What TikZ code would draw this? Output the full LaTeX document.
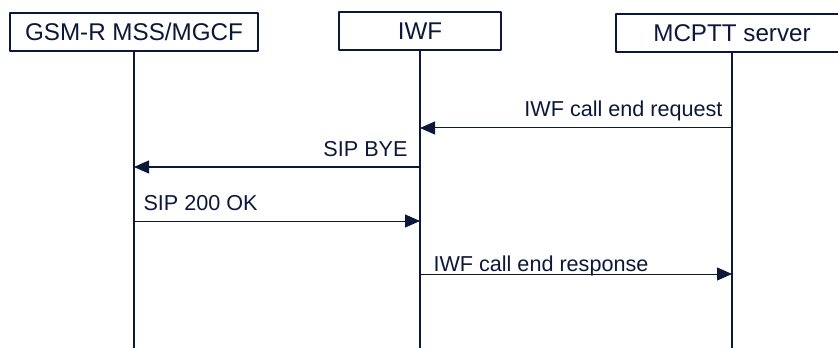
\documentclass[tikz,border=0pt]{standalone}
\usepackage{fontspec}
\setmainfont{Liberation Sans}
\usetikzlibrary{arrows.meta}
\definecolor{navy}{RGB}{12,24,58}
\tikzset{
  entity/.style={draw=navy, line width=1pt, fill=white, inner sep=0pt, minimum height=19pt, font=\fontsize{12.1}{14}\selectfont},
  lifeline/.style={draw=navy, line width=1pt},
  msg/.style={->, draw=navy, line width=0.5pt},
  msglabel/.style={inner sep=0pt, font=\fontsize{10.8}{13}\selectfont}
}
\begin{document}
\begin{tikzpicture}[x=0.5pt, y=-0.5pt, >={Triangle[length=7.5pt,width=6.5pt]}, line join=round, text=navy]
    \clip (0,0) rectangle (838,347);
    % entities
    \node[entity, minimum width=124pt] (gsm) at (134,32) {GSM-R MSS/MGCF};
    \node[entity, minimum width=81pt] (iwf) at (420,31) {IWF};
    \node[entity, minimum width=116pt] (mcptt) at (732,33) {MCPTT server};
    % lifelines
    \foreach \e in {gsm,iwf,mcptt}
        \draw[lifeline] (\e.south) -- (\e.south |- 0,350);
    % messages
    \draw[msg] (mcptt.south |- 0,128) -- (iwf.south |- 0,128)
        node[msglabel, pos=0, anchor=base east, xshift=-4.5pt, yshift=5.5pt] {IWF call end request};
    \draw[msg] (iwf.south |- 0,167) -- (gsm.south |- 0,167)
        node[msglabel, pos=0, anchor=base east, xshift=-6pt, yshift=5.5pt] {SIP BYE};
    \draw[msg] (gsm.south |- 0,221) -- (iwf.south |- 0,221)
        node[msglabel, pos=0, anchor=base west, xshift=4.5pt, yshift=5.5pt] {SIP 200 OK};
    \draw[msg] (iwf.south |- 0,274) -- (mcptt.south |- 0,274)
        node[msglabel, pos=0, anchor=base west, xshift=6.5pt, yshift=1.5pt] {IWF call end response};
\end{tikzpicture}
\end{document}
